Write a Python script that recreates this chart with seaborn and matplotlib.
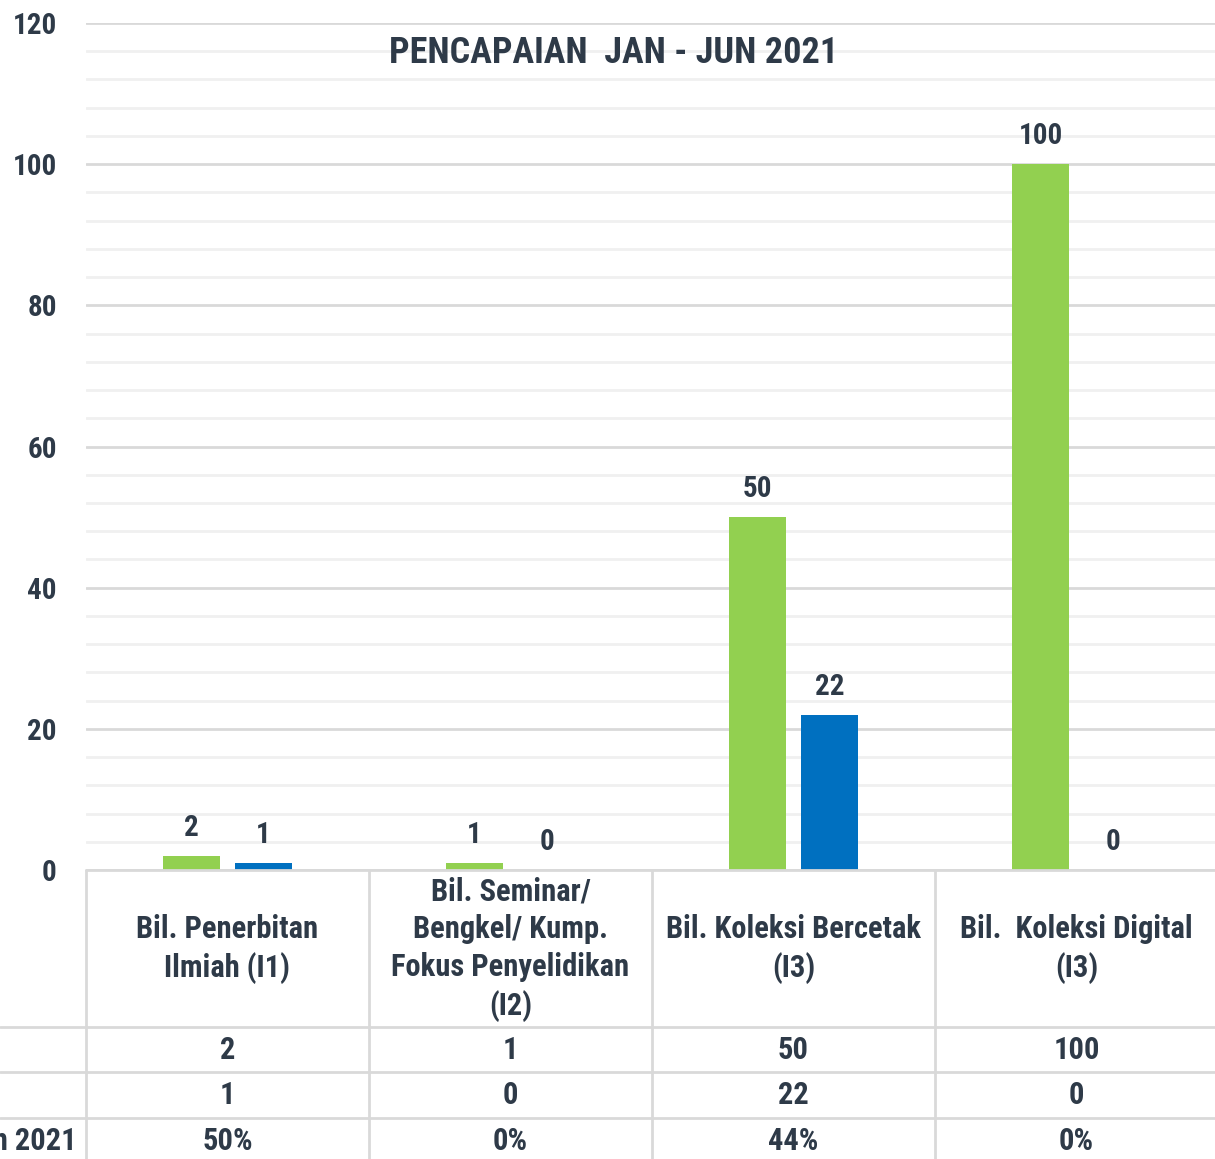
import numpy as np
import pandas as pd
import seaborn as sns
import matplotlib.pyplot as plt

# data
kategori = [
    "Bil. Penerbitan\nIlmiah (I1)",
    "Bil. Seminar/\nBengkel/ Kump.\nFokus Penyelidikan\n(I2)",
    "Bil. Koleksi Bercetak\n(I3)",
    "Bil.  Koleksi Digital\n(I3)",
]
sasaran = [2, 1, 50, 100]
pencapaian = [1, 0, 22, 0]
peratus = ["50%", "0%", "44%", "0%"]
siri = ["Sasaran", "Pencapaian"]
label_baris = "Pencapaian Jan - Jun 2021"

HIJAU = "#92D050"
BIRU = "#0070C0"
TEKS = "#2E3A48"
GRID = "#D9D9D9"
GRID_MINOR = "#F0F0F0"

sns.set_theme(style="white")
plt.rcParams["font.family"] = ["Roboto Condensed", "Roboto", "DejaVu Sans"]
plt.rcParams["font.weight"] = "bold"

df = pd.DataFrame({
    "kategori": kategori * 2,
    "siri": [siri[0]] * 4 + [siri[1]] * 4,
    "nilai": sasaran + pencapaian,
})

W, H = 1215, 1159
fig = plt.figure(figsize=(W / 100, H / 100), dpi=100)
ax = fig.add_axes([86 / W, 1 - 870 / H, 1132 / W, 847 / H])

sns.barplot(data=df, x="kategori", y="nilai", hue="siri", order=kategori,
            hue_order=siri, palette=[HIJAU, BIRU], saturation=1,
            width=0.509, gap=0.21, legend=False, ax=ax, zorder=3,
            edgecolor="none", linewidth=0)

ax.set_xlim(-0.5, 3.5)
ax.set_ylim(0, 120)
ax.set_yticks(np.arange(0, 121, 20))
ax.set_yticks(np.arange(0, 121, 4), minor=True)
ax.grid(axis="y", which="minor", color=GRID_MINOR, lw=2, zorder=0)
ax.grid(axis="y", which="major", color=GRID, lw=2, zorder=0)
ax.set_axisbelow(True)
ax.set_xticks([])
ax.set_xlabel("")
ax.set_ylabel("")
ax.tick_params(axis="y", which="both", length=0, pad=21, labelsize=21,
               labelcolor=TEKS)
for lbl in ax.get_yticklabels():
    lbl.set_fontweight("bold")
for s in ax.spines.values():
    s.set_visible(False)

for cont in ax.containers:
    ax.bar_label(cont, fmt="%g", padding=10, fontsize=21, color=TEKS,
                 fontweight="bold")

fig.text(614 / W, 1 - 53 / H, "PENCAPAIAN  JAN - JUN 2021", ha="center",
         va="center", fontsize=26, color=TEKS, fontweight="bold")

# data table under the chart
tb = fig.add_axes([86 / W, 0, 1132 / W, 1 - 870 / H])
tb.set_xlim(-0.5, 3.5)
tb.set_ylim(H, 870)
tb.axis("off")
px = 283.0
kiri = -0.5 - 86 / px
garis = dict(color=GRID, lw=2, clip_on=False)
tb.plot([-0.5, 3.6], [870, 870], **garis)
for yy in [1027, 1072, 1118]:
    tb.plot([kiri, 3.6], [yy, yy], **garis)
for xx in [-0.5, 0.5, 1.5, 2.5]:
    tb.plot([xx, xx], [870, H], **garis)

fs = 22
for i, k in enumerate(kategori):
    tb.text(i, 949, k, ha="center", va="center", fontsize=fs, color=TEKS,
            fontweight="bold", linespacing=1.32)
    tb.text(i, 1050, str(sasaran[i]), ha="center", va="center", fontsize=fs,
            color=TEKS, fontweight="bold")
    tb.text(i, 1095, str(pencapaian[i]), ha="center", va="center", fontsize=fs,
            color=TEKS, fontweight="bold")
    tb.text(i, 1141, peratus[i], ha="center", va="center", fontsize=fs,
            color=TEKS, fontweight="bold")

# row label is cut by the left edge, as in the reference
tb.text(-0.5 - 9 / px, 1141, label_baris, ha="right", va="center",
        fontsize=fs, color=TEKS, fontweight="bold", clip_on=False)

fig.savefig("out.png", dpi=100)
